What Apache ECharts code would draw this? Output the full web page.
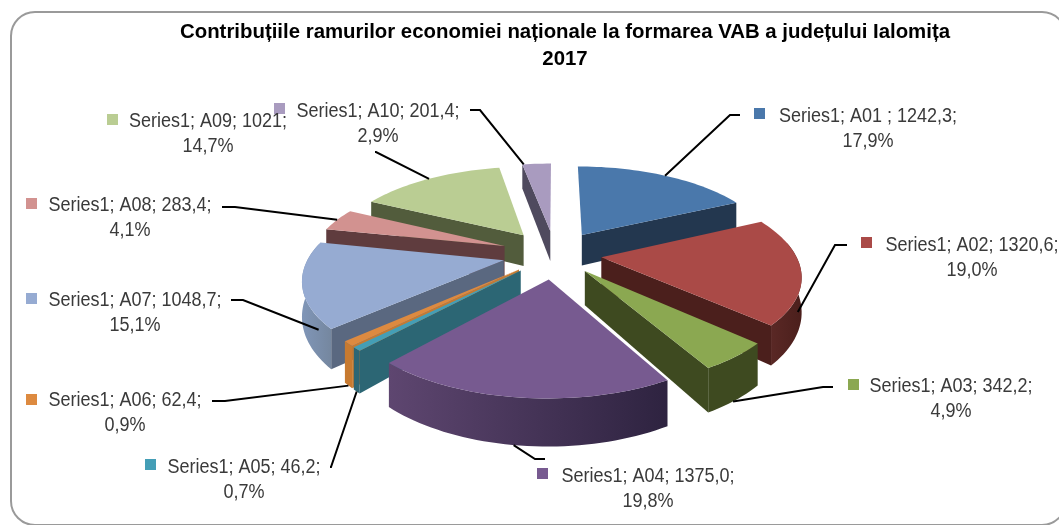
<!DOCTYPE html>
<html>
<head>
<meta charset="utf-8">
<style>html,body{margin:0;padding:0;background:#fff;overflow:hidden}#c{width:1059px;height:525px}</style>
<script src="https://cdn.jsdelivr.net/npm/echarts@6/dist/echarts.min.js"></script>
</head>
<body>
<div id="c"></div>
<script>
// ---- data ----
const seriesName = 'Series1';
const categories = ['A01 ', 'A02', 'A03', 'A04', 'A05', 'A06', 'A07', 'A08', 'A09', 'A10'];
const values = [1242.3, 1320.6, 342.2, 1375.0, 46.2, 62.4, 1048.7, 283.4, 1021, 201.4];
const valueLabels = ['1242,3', '1320,6', '342,2', '1375,0', '46,2', '62,4', '1048,7', '283,4', '1021', '201,4'];
const percentLabels = ['17,9%', '19,0%', '4,9%', '19,8%', '0,7%', '0,9%', '15,1%', '4,1%', '14,7%', '2,9%'];

// ---- styles ----
const topColors = ['#4a78ab', '#aa4a47', '#8ba851', '#775a90', '#449eb6', '#dd8a40', '#96abd2', '#d29290', '#bacd93', '#a99bbf'];
const sideColors = ['#23374f', '#4b1f1c', '#3e4a20', '#38294a', '#2c6674', '#c77a30', '#5a6880', '#5f3c3e', '#525c3c', '#4f4a5e'];
const wallLeft = ['#23374f', '#5a2825', '#3e4a20', '#5e4670', '#2c6674', '#c77a30', '#8096b8', '#5f3c3e', '#525c3c', '#4f4a5e'];
const wallRight = ['#23374f', '#4b1f1c', '#3e4a20', '#2e2340', '#2c6674', '#c77a30', '#75879f', '#5f3c3e', '#525c3c', '#4f4a5e'];

// ---- 3D pie projection parameters ----
const CX = 555, CY = 254, RX = 194, RY = 87, PERSP = 0.18, DEPTH = 32.5;
const explode = [0.27, 0.24, 0.24, 0.28, 0.25, 0.25, 0.27, 0.28, 0.28, 0.28];

// ---- label layout: key x,y / text centre x / first-line y / leader start, stub end, target angle fraction, wall fraction ----
const labelLayout = [
  {kx:754,ky:108,tx:868,ty:117,lx:740,ly:115,sx:730,at:0.50,f:0},
  {kx:861,ky:237,tx:972,ty:246,lx:847,ly:245,sx:835,at:0.72,f:0.45},
  {kx:848,ky:379,tx:951,ty:387,lx:833,ly:387,sx:823,at:0.55,f:1},
  {kx:537,ky:468,tx:648,ty:477,lx:545,ly:459,sx:535,at:0.52,f:1},
  {kx:145,ky:459,tx:244,ty:468,lx:330,ly:467,sx:331,at:0.5,f:1},
  {kx:26,ky:394,tx:125,ty:401,lx:212,ly:401,sx:225,at:0.5,f:1},
  {kx:26,ky:293,tx:135,ty:301,lx:231,ly:300,sx:243,at:0.13,f:0.3},
  {kx:26,ky:198,tx:130,ty:206,lx:222,ly:207,sx:235,at:0.5,f:0},
  {kx:107,ky:114,tx:208,ty:122,lx:375,ly:152,sx:376,at:0.5,f:0},
  {kx:274,ky:103,tx:378,ty:112,lx:470,ly:110,sx:480,at:0.05,f:0}
];

const total = values.reduce((a, b) => a + b, 0);
const starts = [];
values.reduce((acc, v, i) => { starts[i] = acc; return acc + v / total * Math.PI * 2; }, 0);
const mids = values.map((v, i) => starts[i] + v / total * Math.PI);
// paint back to front
const rank = values.map((v, i) => {
  const d = Math.abs(mids[i] - Math.PI);
  return Math.round((Math.PI - d) * 100);
});

function project(X, Y, z) {
  const s = 1 / (1 - PERSP * Y);
  return [CX + RX * X * s, CY + RY * Y * s + DEPTH * Math.pow(s, 1.5) * z];
}

function renderSlice(params, api) {
  const i = params.dataIndex;
  const v = api.value(0);
  const a0 = starts[i], a1 = a0 + v / total * Math.PI * 2, mid = mids[i], e = explode[i];
  const ox = e * Math.sin(mid), oy = -e * Math.cos(mid);
  const pt = (t, z) => project(ox + Math.sin(t), oy - Math.cos(t), z);
  const apex = z => project(ox, oy, z);
  const arc = (from, to, z) => {
    const n = Math.max(2, Math.ceil((to - from) / 0.03));
    const out = [];
    for (let k = 0; k <= n; k++) out.push(pt(from + (to - from) * k / n, z));
    return out;
  };
  const base = rank[i] * 10;
  const children = [];
  const wa = Math.max(a0, 1.4), wb = Math.min(a1, 4.9);
  if (wb > wa) {
    children.push({
      type: 'polygon', z2: base + 1, silent: true,
      shape: { points: arc(wa, wb, 0).concat(arc(wa, wb, 1).reverse()) },
      style: { fill: { type: 'linear', x: 0, y: 0, x2: 1, y2: 0, colorStops: [
        { offset: 0, color: wallLeft[i] }, { offset: 1, color: wallRight[i] }] } }
    });
  }
  if (Math.sin(a0) < -0.001) {
    children.push({ type: 'polygon', z2: base + 2, silent: true,
      shape: { points: [apex(0), pt(a0, 0), pt(a0, 1), apex(1)] }, style: { fill: sideColors[i] } });
  }
  if (Math.sin(a1) > 0.001) {
    children.push({ type: 'polygon', z2: base + 2, silent: true,
      shape: { points: [apex(0), pt(a1, 0), pt(a1, 1), apex(1)] }, style: { fill: sideColors[i] } });
  }
  children.push({ type: 'polygon', z2: base + 3, silent: true,
    shape: { points: [apex(0)].concat(arc(a0, a1, 0)) }, style: { fill: topColors[i] } });

  // label, key and leader
  const L = labelLayout[i];
  const target = pt(a0 + (a1 - a0) * L.at, L.f);
  children.push({ type: 'polyline', z2: 9000, silent: true,
    shape: { points: [[L.lx, L.ly], [L.sx, L.ly], target] },
    style: { stroke: '#000', lineWidth: 2, fill: null } });
  children.push({ type: 'rect', z2: 9000, silent: true,
    shape: { x: L.kx, y: L.ky, width: 11, height: 11 }, style: { fill: topColors[i] } });
  children.push({ type: 'text', z2: 9001, silent: true, x: L.tx, y: L.ty + 12, scaleX: 0.9,
    style: { text: seriesName + '; ' + categories[i] + '; ' + valueLabels[i] + ';\n' + percentLabels[i],
      x: 0, y: 0, align: 'center', verticalAlign: 'middle', lineHeight: 25,
      font: '20px "Liberation Sans"', fill: '#3a3a3a' } });
  return { type: 'group', children };
}

const chart = echarts.init(document.getElementById('c'), null, { renderer: 'canvas' });
chart.setOption({
  animation: false,
  backgroundColor: '#fff',
  title: {
    text: 'Contribuțiile ramurilor economiei naționale la formarea VAB a județului Ialomița\n2017',
    left: 560, top: 14, textAlign: 'center',
    textStyle: { fontFamily: 'Liberation Sans', fontWeight: 'bold', fontSize: 20.4, lineHeight: 27, color: '#000' }
  },
  graphic: [{
    type: 'rect', z: -1, silent: true,
    shape: { x: 11, y: 12, width: 1055, height: 513, r: 24 },
    style: { fill: '#fff', stroke: '#9a9a9a', lineWidth: 2 }
  }],
  tooltip: { show: false },
  series: [{
    type: 'custom',
    coordinateSystem: 'none',
    renderItem: renderSlice,
    data: values.map(v => [v])
  }]
});
</script>
</body>
</html>
